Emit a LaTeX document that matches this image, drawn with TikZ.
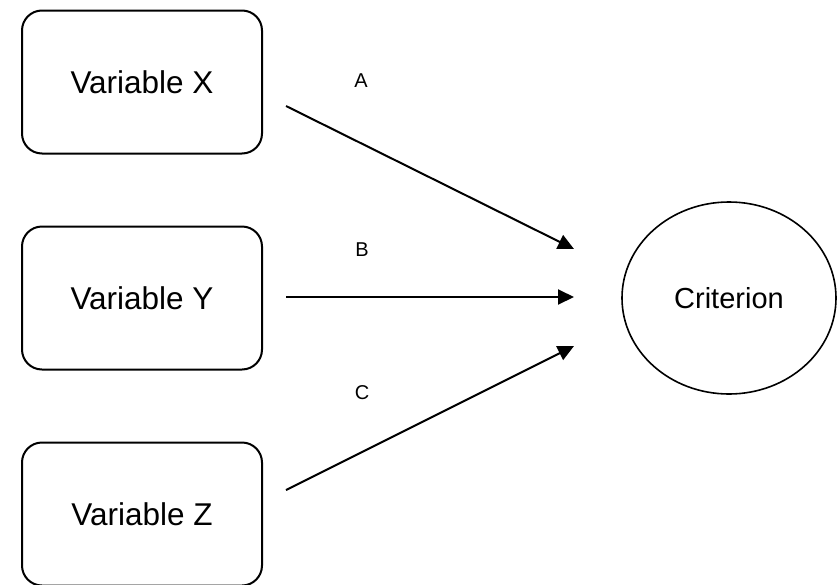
\documentclass[tikz,border=0pt]{standalone}
\usepackage{fontspec}
\setmainfont{Liberation Sans}
\usetikzlibrary{arrows.meta,shapes.geometric}
\begin{document}
\begin{tikzpicture}[x=1pt,y=-1pt,
  varbox/.style={draw,line width=2pt,rounded corners=20pt,minimum width=240pt,minimum height=143pt,inner sep=0pt,font=\fontsize{31.5}{36}\selectfont},
  critnode/.style={draw,line width=1.6pt,ellipse,minimum width=214pt,minimum height=192pt,inner sep=0pt,font=\fontsize{29}{34}\selectfont},
  conn/.style={line width=2pt,-{Triangle[length=16pt,width=15pt]}},
  lab/.style={font=\fontsize{20}{24}\selectfont}]
\useasboundingbox (0,0) rectangle (838,584);
\node[varbox] (x) at (142,82) {Variable X};
\node[varbox] (y) at (142,298) {Variable Y};
\node[varbox] (z) at (142,514) {Variable Z};
\node[critnode] (c) at (729,298) {Criterion};
\coordinate (xs) at (286,106);
\coordinate (ys) at (286,297);
\coordinate (zs) at (286,490);
\coordinate (xe) at (574,249);
\coordinate (ye) at (574,297);
\coordinate (ze) at (574,346);
\draw[conn] (xs) -- (xe);
\draw[conn] (ys) -- (ye);
\draw[conn] (zs) -- (ze);
\node[lab] (la) at (361,81) {A};
\node[lab] (lb) at (362,250) {B};
\node[lab] (lc) at (362,393) {C};
\end{tikzpicture}
\end{document}
